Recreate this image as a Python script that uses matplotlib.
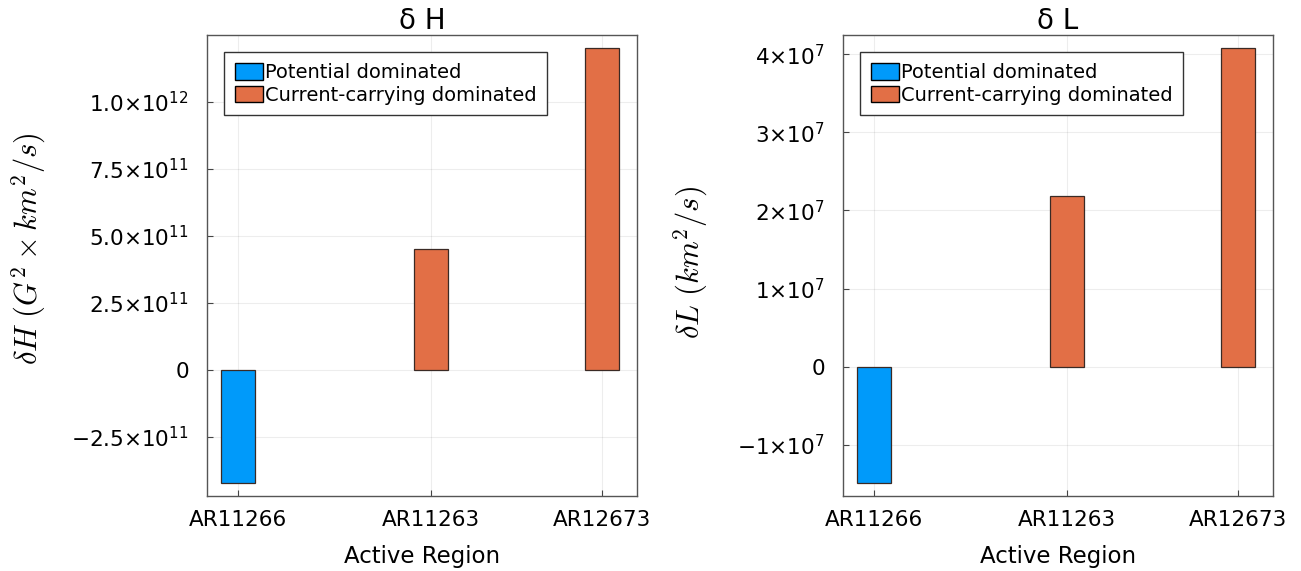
import numpy as np
import matplotlib
matplotlib.use("Agg")
import matplotlib.pyplot as plt
from matplotlib.patches import Patch
from matplotlib.ticker import MultipleLocator, FuncFormatter

# data
regions = ["AR11266", "AR11263", "AR12673"]
delta_H = [-4.23e11, 4.5e11, 1.2e12]
delta_L = [-1.49e7, 2.19e7, 4.08e7]
kind = ["Potential dominated", "Current-carrying dominated", "Current-carrying dominated"]
legend_labels = ["Potential dominated", "Current-carrying dominated"]

colors = {"Potential dominated": "#009AFA", "Current-carrying dominated": "#E26F46"}

# layout
xpos = [0.0, 1.0, 1.886]
bar_w = 0.18
plt.rcParams['font.family'] = ['DejaVu Sans']


def sci_fmt(decimals):
    def f(v, pos):
        if abs(v) < 1e-30:
            return "0"
        e = int(np.floor(np.log10(abs(v)) + 1e-9))
        m = v / 10**e
        s = ("%." + str(decimals) + "f") % abs(m)
        sign = "\u2212" if v < 0 else ""
        return sign + s + "\u00d710$^{%d}$" % e
    return FuncFormatter(f)


def draw_panel(ax, vals, title, ylabel, step, decimals, ylab_x, ylab_y):
    for x, v, k in zip(xpos, vals, kind):
        ax.bar(x, v, width=bar_w, color=colors[k], edgecolor="#3a2a25", linewidth=0.9, zorder=3)
    lo = min(0, min(vals))
    hi = max(0, max(vals))
    pad = 0.03 * (hi - lo)
    ax.set_ylim(lo - pad, hi + pad)
    ax.set_xlim(-0.161, 2.067)
    ax.set_xticks(xpos)
    ax.set_xticklabels(regions)
    ax.yaxis.set_major_locator(MultipleLocator(step))
    ax.yaxis.set_major_formatter(sci_fmt(decimals))
    ax.tick_params(direction="in", length=4, width=0.8, color="#444444",
                   labelsize=15.5)
    ax.tick_params(axis="x", pad=10)
    ax.tick_params(axis="y", pad=13)
    ax.grid(True, color="black", alpha=0.07, linewidth=0.8, zorder=0)
    for sp in ax.spines.values():
        sp.set_color("#555555")
        sp.set_linewidth(1.0)
    ax.set_title(title, fontsize=20, pad=3)
    ax.set_xlabel("Active Region", fontsize=16.5, labelpad=11)
    ax.set_ylabel(ylabel, fontsize=22, math_fontfamily="cm")
    ax.yaxis.set_label_coords(ylab_x, ylab_y)
    handles = [Patch(facecolor=colors[l], edgecolor="black", linewidth=1.0) for l in legend_labels]
    ax.legend(handles, legend_labels, loc="upper left", bbox_to_anchor=(0.0395, 0.963),
              fontsize=14, frameon=True, fancybox=False, edgecolor="#333333",
              handlelength=1.45, handleheight=0.95, handletextpad=0.1, labelspacing=0.2,
              borderpad=0.55, borderaxespad=0.0, framealpha=1.0)


fig = plt.figure(figsize=(13.01, 5.71), dpi=100)
W, H = 1301, 571
ax1 = fig.add_axes([207 / W, 1 - 496 / H, 430 / W, 461 / H])
ax2 = fig.add_axes([843 / W, 1 - 496 / H, 430 / W, 461 / H])

draw_panel(ax1, delta_H, "\u03b4 H", r"$\delta H\ (G^2 \times km^2/s)$", 2.5e11, 1, -0.37, 0.537)
draw_panel(ax2, delta_L, "\u03b4 L", r"$\delta L\ (km^2/s)$", 1e7, 0, -0.31, 0.506)

fig.savefig("out.png", dpi=100)
